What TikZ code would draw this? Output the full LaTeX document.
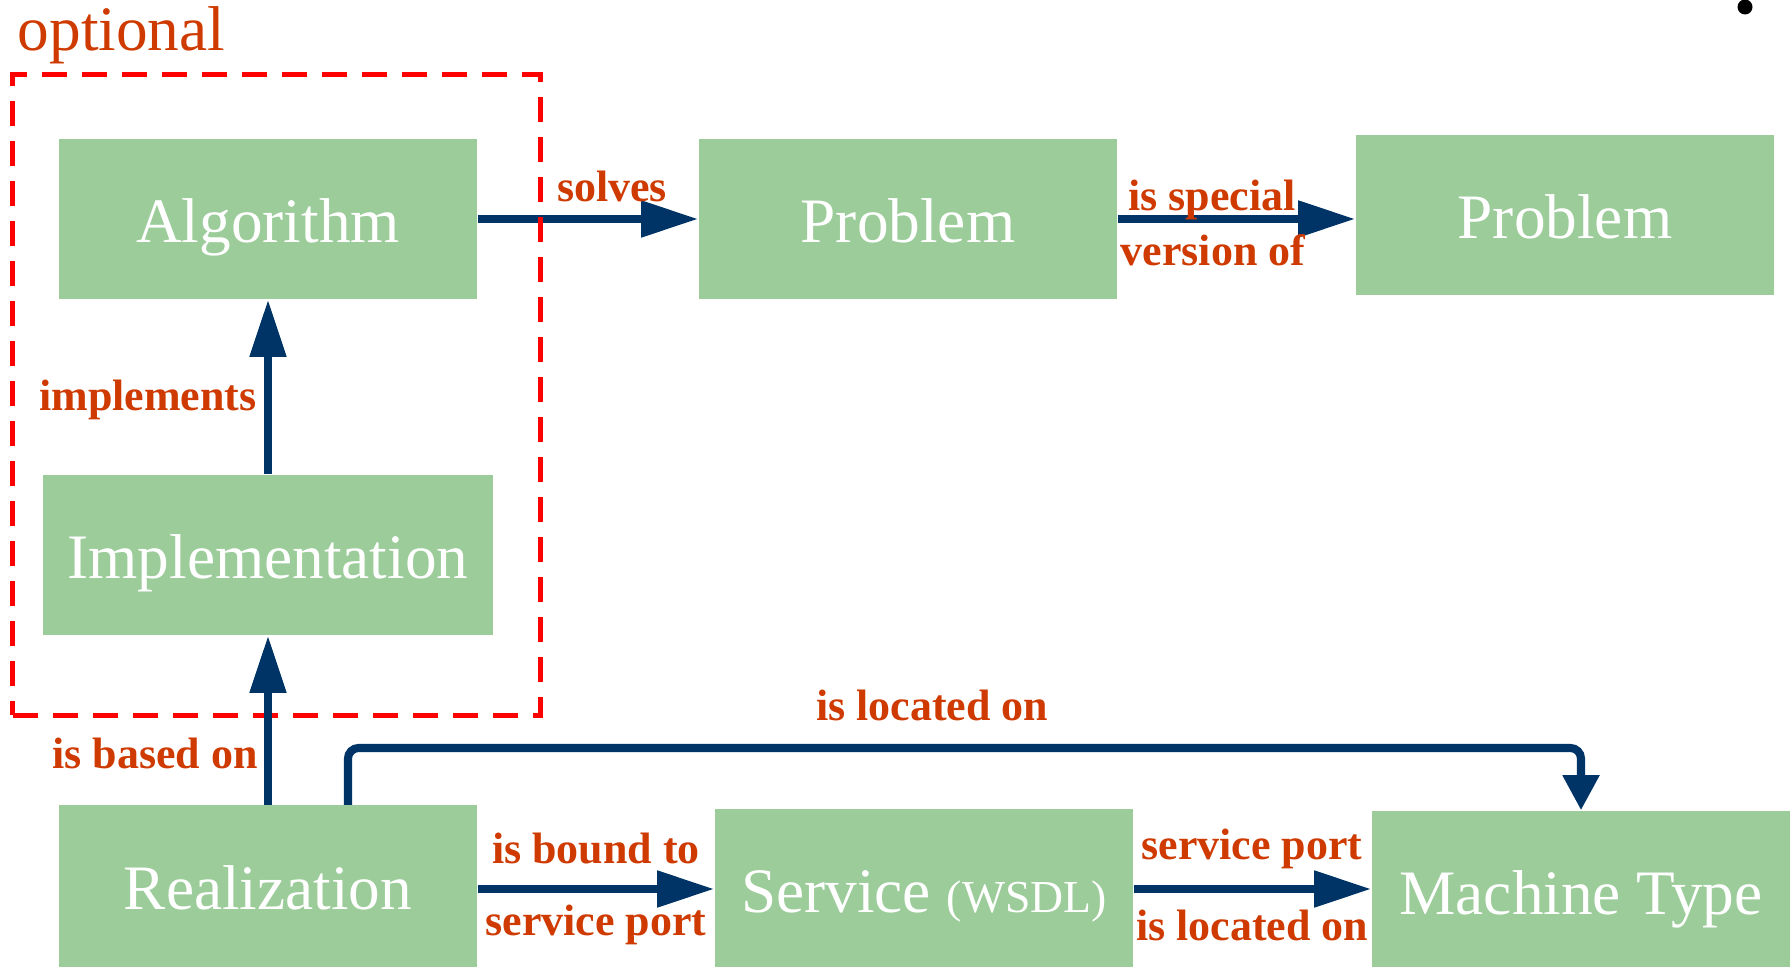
\documentclass[tikz,border=0pt]{standalone}
\usepackage{fontspec}
\setmainfont{Liberation Serif}
\usepackage{tikz}
\usepackage{xcolor}
\usetikzlibrary{arrows.meta}
\definecolor{boxgreen}{RGB}{155,204,153}
\definecolor{arrowblue}{RGB}{0,51,102}
\definecolor{labelred}{RGB}{206,58,0}
\tikzset{
    green-box/.style = {fill=boxgreen, rectangle, inner sep=0pt, minimum width=4.18cm, minimum height=1.6cm, text height=13.5pt, text depth=0pt, text=white, font=\fontsize{18}{20}\selectfont},
    rel-arrow/.style = {draw=arrowblue, line width=2.3pt, -{Triangle[length=0.57cm, width=0.35cm]}},
    rel-label/.style = {text=labelred, font=\bfseries\fontsize{12.5}{14}\selectfont, inner sep=0pt},
    opt-frame/.style = {draw=red, line width=1.4pt, dash pattern=on 0.25cm off 0.15cm, rectangle, inner sep=0pt},
}

\begin{document}
\begin{tikzpicture}[x=0.01cm, y=-0.01cm]
\useasboundingbox (0,0) rectangle (1791,967);
\node [green-box] (algo) at (268,219) {Algorithm};
\node [green-box] (prob) at (908,219) {Problem};
\node [green-box] (prob-gen) at (1565,215) {Problem};
\node [green-box, minimum width=4.5cm] (impl) at (268,555) {Implementation};
\node [green-box, minimum height=1.61cm] (real) at (268,886) {Realization};
\node [green-box] (svc) at (924,889) {Service {\fontsize{13}{15}\selectfont (WSDL)}};
\node [green-box] (mach) at (1581,891) {Machine Type};
\node [circle, fill=black, inner sep=0pt, minimum size=0.15cm] (dot) at (1745,7) {};

\draw [rel-arrow] (algo.east) -- (prob.west);
\draw [rel-arrow] (prob.east) -- (prob.east -| prob-gen.west);
\draw [rel-arrow] (impl.north) -- (algo.south);
\draw [rel-arrow] (svc.west -| real.east) -- (svc.west);
\draw [rel-arrow] (svc.east) -- (svc.east -| mach.west);
\coordinate (loc-bend) at (348,748);
\draw [rel-arrow, -{Triangle[length=0.35cm, width=0.35cm]}, rounded corners=3pt] (real.north -| loc-bend) -- (loc-bend) -| (mach.north);

\node [opt-frame, minimum width=5.27cm, minimum height=6.4cm] (opt) at (276.5,395) {};
\node [text=labelred, font=\fontsize{18}{20}\selectfont, anchor=base west, inner sep=0pt] (opt-title) at (17,51) {optional};
\draw [rel-arrow] (real.north) -- (impl.south);

\node [rel-label] (solves) at (612,186) {solves};
\node [rel-label] (special-a) at (1212,200) {is special};
\node [rel-label] (special-b) at (1213,250) {version of};
\node [rel-label] (implements) at (148,400) {implements};
\node [rel-label] (based) at (155,753) {is based on};
\node [rel-label] (located) at (932,705) {is located on};
\node [rel-label] (bound-a) at (596,849) {is bound to};
\node [rel-label] (bound-b) at (596,925) {service port};
\node [rel-label] (port-a) at (1252,849) {service port};
\node [rel-label] (port-b) at (1252,925) {is located on};
\end{tikzpicture}
\end{document}
